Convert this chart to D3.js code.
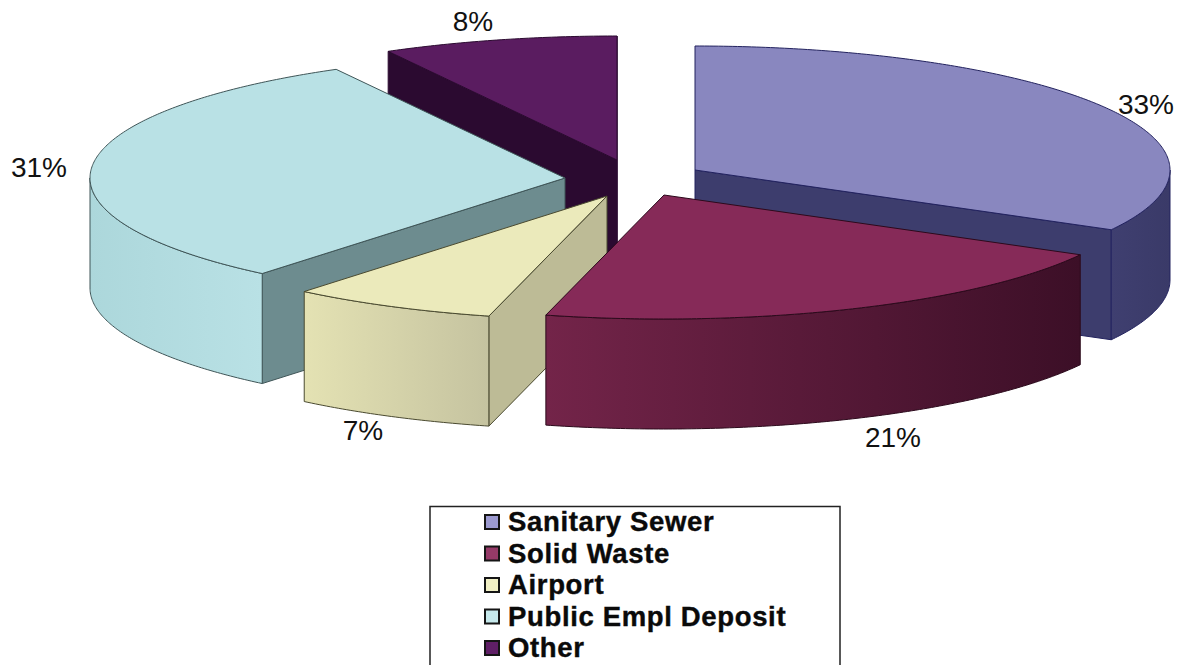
<!DOCTYPE html>
<html>
<head>
<meta charset="utf-8">
<script src="https://cdn.jsdelivr.net/npm/d3@7"></script>
<style>
  html, body { margin: 0; padding: 0; background: #fff; }
  svg { display: block; }
  text { font-family: "Liberation Sans", Arial, sans-serif; }
</style>
</head>
<body>
<script>
// Budget shares, clockwise from twelve o'clock
const categories = ["Sanitary Sewer", "Solid Waste", "Airport", "Public Empl Deposit", "Other"];
const shares = [33, 21, 7, 31, 8];

const width = 1180, height = 665;
const radiusX = 475, radiusY = 124, depth = 110;

// Per-wedge layout and colours, keyed by category
const wedgeStyle = {
  "Sanitary Sewer":      { apex: [695, 170], top: "#8987bf", cut: "#3d3d6d", wall: ["#3f3f70", "#3a3a68"], line: "#23235f", swatch: "#9c9ad0", label: [1146, 114] },
  "Solid Waste":         { apex: [664, 195], top: "#862a58", cut: "#3a0f27", wall: ["#732449", "#3c0f27"], line: "#2c0a1c", swatch: "#963a68", label: [893, 447] },
  "Airport":             { apex: [607, 196], top: "#ebeabb", cut: "#bdbb96", wall: ["#e4e2b3", "#c5c3a0"], line: "#4a4a30", swatch: "#f0efc4", label: [363, 440] },
  "Public Empl Deposit": { apex: [565, 178], top: "#b9e1e5", cut: "#6d8c8f", wall: ["#acd7db", "#b9e1e5"], line: "#3f5557", swatch: "#c6e9ec", label: [39, 177] },
  "Other":               { apex: [617, 160], top: "#5a1c60", cut: "#2b0a30", wall: ["#2b0a30", "#2b0a30"], line: "#2b0a30", swatch: "#5f1f66", label: [473, 31] }
};

// Back-to-front painting order for the exploded wedges
const paintOrder = ["Other", "Public Empl Deposit", "Airport", "Sanitary Sewer", "Solid Waste"];

const svg = d3.select("body").append("svg")
  .attr("width", width)
  .attr("height", height);

const defs = svg.append("defs");

const pie = d3.pie().sort(null).value(d => d.share);
const wedges = pie(categories.map((name, i) => ({ name, share: shares[i] })));
const byName = new Map(wedges.map(w => [w.data.name, w]));

const outline = d3.line();

// Ground-plane angle to screen position, relative to a wedge's apex
const rimPoint = (apex, angle, drop = 0) => [
  apex[0] + radiusX * Math.sin(angle),
  apex[1] - radiusY * Math.cos(angle) + drop
];

const rimArc = (apex, a0, a1, drop = 0) => {
  const steps = Math.max(2, Math.ceil(Math.abs(a1 - a0) / 0.01));
  return d3.range(steps + 1).map(i => rimPoint(apex, a0 + (a1 - a0) * i / steps, drop));
};

const faceGroup = svg.append("g").attr("stroke-linejoin", "round");

paintOrder.forEach((name, idx) => {
  const w = byName.get(name);
  const s = wedgeStyle[name];
  const a0 = w.startAngle, a1 = w.endAngle;
  const g = faceGroup.append("g").attr("stroke", s.line).attr("stroke-width", 1);

  // Flat sides of the wedge, shown only when they turn toward the viewer
  const cutFace = angle => {
    const tip = s.apex, rim = rimPoint(s.apex, angle);
    g.append("path")
      .attr("d", outline([tip, rim, [rim[0], rim[1] + depth], [tip[0], tip[1] + depth]]) + "Z")
      .attr("fill", s.cut);
  };
  if (Math.sin(a1) > 0) cutFace(a1);
  if (Math.sin(a0) < 0) cutFace(a0);

  // Curved outer wall: only the front half of the ellipse is visible
  const wallFrom = Math.max(a0, Math.PI / 2);
  const wallTo = Math.min(a1, Math.PI * 1.5);
  if (wallTo > wallFrom) {
    const upper = rimArc(s.apex, wallFrom, wallTo);
    const lower = rimArc(s.apex, wallTo, wallFrom, depth);
    const xs = d3.extent(upper, d => d[0]);
    const gradId = "wall-" + idx;
    const grad = defs.append("linearGradient")
      .attr("id", gradId)
      .attr("gradientUnits", "userSpaceOnUse")
      .attr("x1", xs[0]).attr("x2", xs[1])
      .attr("y1", 0).attr("y2", 0);
    grad.append("stop").attr("offset", "0%").attr("stop-color", s.wall[0]);
    grad.append("stop").attr("offset", "100%").attr("stop-color", s.wall[1]);
    g.append("path")
      .attr("d", outline(upper.concat(lower)) + "Z")
      .attr("fill", `url(#${gradId})`);
  }

  // Top surface
  g.append("path")
    .attr("d", outline([s.apex].concat(rimArc(s.apex, a0, a1))) + "Z")
    .attr("fill", s.top);
});

// Percentage labels
svg.append("g")
  .attr("font-size", 28)
  .attr("fill", "#111")
  .attr("text-anchor", "middle")
  .selectAll("text")
  .data(wedges)
  .join("text")
  .attr("x", d => wedgeStyle[d.data.name].label[0])
  .attr("y", d => wedgeStyle[d.data.name].label[1])
  .text(d => d3.format("d")(d.data.share) + "%");

// Legend box runs off the bottom edge of the page
const legend = svg.append("g");
legend.append("rect")
  .attr("x", 430).attr("y", 506.5)
  .attr("width", 410).attr("height", 175)
  .attr("fill", "#fff")
  .attr("stroke", "#222")
  .attr("stroke-width", 1.5);

const rowY = d3.scalePoint().domain(categories).range([522, 648]);

const rows = legend.selectAll("g.row")
  .data(categories)
  .join("g")
  .attr("class", "row")
  .attr("transform", d => `translate(0,${rowY(d)})`);

rows.append("rect")
  .attr("x", 485).attr("y", -7)
  .attr("width", 14).attr("height", 14)
  .attr("fill", d => wedgeStyle[d].swatch)
  .attr("stroke", "#151515")
  .attr("stroke-width", 2);

rows.append("text")
  .attr("x", 508)
  .attr("y", 9)
  .attr("font-size", 27.5)
  .attr("letter-spacing", 0.65)
  .attr("font-weight", "bold")
  .attr("fill", "#0a0a0a")
  .attr("stroke", "#0a0a0a")
  .attr("stroke-width", 0.4)
  .text(d => d);
</script>
</body>
</html>
